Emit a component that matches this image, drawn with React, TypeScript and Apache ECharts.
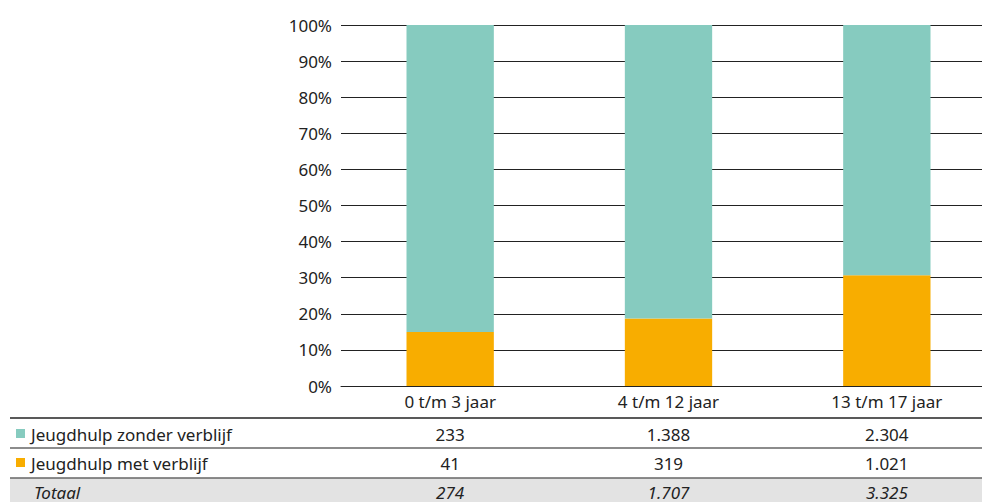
import React, { useEffect, useRef } from "react";
import * as echarts from "echarts";

const categories = ["0 t/m 3 jaar", "4 t/m 12 jaar", "13 t/m 17 jaar"];
const zonderVerblijf = [233, 1388, 2304];
const metVerblijf = [41, 319, 1021];
const totaal = [274, 1707, 3325];
const zonderLabels = ["233", "1.388", "2.304"];
const metLabels = ["41", "319", "1.021"];
const totaalLabels = ["274", "1.707", "3.325"];
const seriesNames = ["Jeugdhulp zonder verblijf", "Jeugdhulp met verblijf"];
const colors = ["#86cbbf", "#f8ad00"];

const FONT = "'Noto Sans', sans-serif";
const FS = 17;

export default function App() {
  const ref = useRef<HTMLDivElement>(null);
  useEffect(() => {
    if (!ref.current) return;
    const chart = echarts.init(ref.current, null, { renderer: "svg" });
    const pctMet = metVerblijf.map((v, i) => (v / totaal[i]) * 100);
    const pctZonder = zonderVerblijf.map((v, i) => (v / totaal[i]) * 100);
    chart.setOption({
      animation: false,
      grid: { left: 341, right: 0, top: 25, bottom: 116, containLabel: false },
      xAxis: {
        type: "category",
        data: categories,
        axisLine: { show: true, lineStyle: { color: "#222", width: 1 } },
        axisTick: { show: false },
        axisLabel: { color: "#222", fontSize: FS, fontFamily: FONT, margin: 7 },
      },
      yAxis: {
        type: "value",
        min: 0,
        max: 100,
        interval: 10,
        axisLine: { show: false },
        axisTick: { show: false },
        axisLabel: { color: "#222", fontSize: FS, fontFamily: FONT, margin: 9, formatter: "{value}%" },
        splitLine: { show: true, lineStyle: { color: "#222", width: 1 } },
      },
      series: [
        {
          name: seriesNames[1],
          type: "bar",
          stack: "a",
          data: pctMet,
          barWidth: "40%",
          itemStyle: { color: colors[1] },
        },
        {
          name: seriesNames[0],
          type: "bar",
          stack: "a",
          data: pctZonder,
          barWidth: "40%",
          itemStyle: { color: colors[0] },
        },
      ],
    });

    const xs = categories.map((_, i) => chart.convertToPixel({ xAxisIndex: 0 }, i) as number);
    const W = 982;
    const rowTextY = [434, 463, 492];
    const rows = [zonderLabels, metLabels, totaalLabels];
    const graphics: any[] = [
      { type: "rect", shape: { x: 10, y: 478, width: W - 10, height: 30 }, style: { fill: "#e3e3e3" }, z: 0 },
      { type: "line", shape: { x1: 10, y1: 418, x2: W, y2: 418 }, style: { stroke: "#222", lineWidth: 1.5 } },
      { type: "line", shape: { x1: 10, y1: 448, x2: W, y2: 448 }, style: { stroke: "#666", lineWidth: 1.5 } },
      { type: "line", shape: { x1: 10, y1: 478, x2: W, y2: 478 }, style: { stroke: "#666", lineWidth: 1.5 } },
      { type: "rect", shape: { x: 16, y: 429, width: 9, height: 9 }, style: { fill: colors[0] } },
      { type: "rect", shape: { x: 16, y: 458, width: 9, height: 9 }, style: { fill: colors[1] } },
      {
        type: "text", x: 31, y: rowTextY[0],
        style: { text: seriesNames[0], fill: "#222", font: `${FS}px ${FONT}`, verticalAlign: "middle" },
      },
      {
        type: "text", x: 31, y: rowTextY[1],
        style: { text: seriesNames[1], fill: "#222", font: `${FS}px ${FONT}`, verticalAlign: "middle" },
      },
      {
        type: "text", x: 34, y: rowTextY[2],
        style: { text: "Totaal", fill: "#222", font: `italic ${FS}px ${FONT}`, verticalAlign: "middle" },
      },
    ];
    rows.forEach((row, r) => {
      row.forEach((label, i) => {
        graphics.push({
          type: "text", x: xs[i], y: rowTextY[r],
          style: {
            text: label, fill: "#222",
            font: `${r === 2 ? "italic " : ""}${FS}px ${FONT}`,
            align: "center", verticalAlign: "middle",
          },
        });
      });
    });
    chart.setOption({ graphic: graphics });
    return () => chart.dispose();
  }, []);
  return (
    <div style={{ width: 982, height: 502, position: "absolute", left: 0, top: 0, overflow: "hidden" }}>
      <div ref={ref} style={{ width: 996, height: 502, position: "absolute", left: 0, top: 0 }} />
    </div>
  );
}
